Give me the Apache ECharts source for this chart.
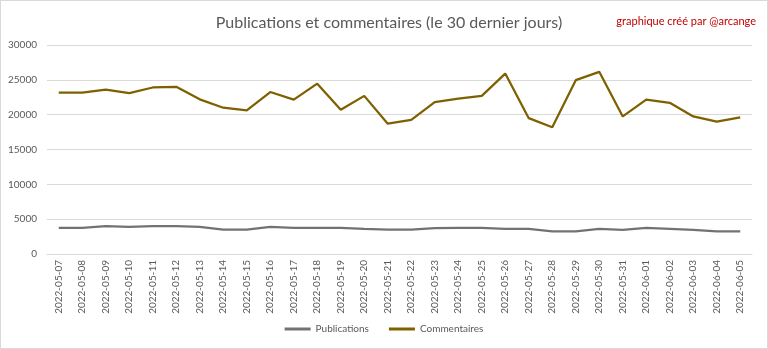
<!DOCTYPE html>
<html><head><meta charset="utf-8">
<script src="https://cdn.jsdelivr.net/npm/echarts@6/dist/echarts.min.js"></script>
<style>html,body{margin:0;padding:0;background:#fff}#c{width:768px;height:349px;box-sizing:border-box;border:1px solid #d9d9d9}</style>
</head><body><div id="c"></div>
<script>
const categories = ["2022-05-07","2022-05-08","2022-05-09","2022-05-10","2022-05-11","2022-05-12","2022-05-13","2022-05-14","2022-05-15","2022-05-16","2022-05-17","2022-05-18","2022-05-19","2022-05-20","2022-05-21","2022-05-22","2022-05-23","2022-05-24","2022-05-25","2022-05-26","2022-05-27","2022-05-28","2022-05-29","2022-05-30","2022-05-31","2022-06-01","2022-06-02","2022-06-03","2022-06-04","2022-06-05"];
const publications = [3750,3750,4000,3900,4000,4000,3900,3500,3500,3900,3750,3750,3750,3600,3500,3500,3700,3750,3750,3600,3600,3250,3250,3600,3450,3750,3600,3450,3250,3250];
const commentaires = [23150,23150,23600,23100,23900,24000,22200,21000,20600,23250,22150,24450,20700,22700,18700,19250,21800,22300,22700,25900,19500,18200,24950,26150,19750,22150,21700,19750,19000,19600];
const font = "Lato, 'Open Sans', sans-serif";
const chart = echarts.init(document.getElementById('c'));
chart.setOption({
  animation:false,
  title:[{text:'Publications et commentaires (le 30 dernier jours)',left:383,top:9,textAlign:'center',
    textStyle:{fontFamily:font,fontSize:16,fontWeight:'normal',color:'#595959'}},
    {text:'graphique créé par @arcange',right:6,top:10,textStyle:{fontFamily:font,fontSize:11,fontWeight:'normal',color:'#c00000'}}],
  grid:{left:46,right:15,top:44,bottom:94,containLabel:false},
  legend:{bottom:9,left:'center',itemWidth:26,itemHeight:3,itemGap:20,icon:'rect',
    textStyle:{fontFamily:font,fontSize:10,color:'#595959'},data:['Publications','Commentaires']},
  xAxis:{type:'category',data:categories,boundaryGap:true,
    axisLine:{lineStyle:{color:'#d9d9d9'}},axisTick:{show:false},
    axisLabel:{rotate:90,interval:0,fontFamily:font,fontSize:10,color:'#595959',margin:6}},
  yAxis:{type:'value',min:0,max:30000,interval:5000,
    axisLine:{show:false},axisTick:{show:false},
    splitLine:{lineStyle:{color:'#d9d9d9'}},
    axisLabel:{fontFamily:font,fontSize:10,color:'#595959',margin:10,formatter:function(v){return String(v);}}},
  series:[
    {name:'Publications',type:'line',data:publications,symbol:'none',lineStyle:{width:2.25,color:'#767171'},itemStyle:{color:'#767171'}},
    {name:'Commentaires',type:'line',data:commentaires,symbol:'none',lineStyle:{width:2.25,color:'#7f6000'},itemStyle:{color:'#7f6000'}}
  ]
});
</script></body></html>
